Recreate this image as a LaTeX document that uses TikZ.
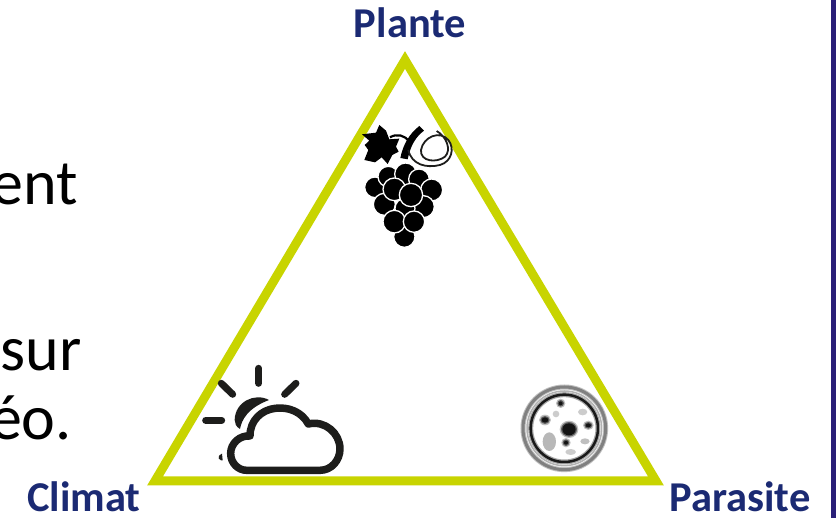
\documentclass[tikz,border=0pt]{standalone}
\usepackage{fontspec}
\setmainfont{Carlito}
\definecolor{navy}{HTML}{1B2A73}
\definecolor{lime}{HTML}{C8D400}
\definecolor{barcol}{HTML}{2A1F78}
\definecolor{ink}{HTML}{1D1D1B}
\newcommand{\softblob}[4]{% x, y, xr, yr
  \fill[black,opacity=.25] (#1,#2) ellipse[x radius=#3+6,y radius=#4+6];
  \fill[black,opacity=.5] (#1,#2) ellipse[x radius=#3+2,y radius=#4+2];
  \fill[black,opacity=.8] (#1,#2) ellipse[x radius=#3-2,y radius=#4-2];
}
\tikzset{
  corner label/.style={font=\fontsize{42.5}{42.5}\selectfont\bfseries,text=navy,inner sep=0pt,anchor=base},
  body text/.style={font=\fontsize{64}{64}\selectfont,text=black,inner sep=0pt,anchor=base east},
  berry/.style={fill=black,draw=white,line width=1.3pt},
  ray/.style={draw=ink,line width=7pt,line cap=round},
}
\begin{document}
\begin{tikzpicture}[x=1pt,y=-1pt]
\useasboundingbox (0,0) rectangle (836,518);
\fill[white] (0,0) rectangle (836,518);
\fill[barcol] (831,0) rectangle (836,518);
\begin{scope}
\clip (0,0) rectangle (836,518);
\node[body text] (t1) at (78,205) {ent};
\node[body text] (t2) at (82,371) {sur};
\node[body text] (t3) at (72,440) {éo.};
\end{scope}
% triangle
\coordinate (A) at (405,60);
\coordinate (B) at (155,481);
\coordinate (C) at (656,481);
\draw[lime,line width=9pt,miter limit=10] (A) -- (B) -- (C) -- cycle;
% labels
\node[corner label] (plante) at (410,38) {Plante};
\node[corner label] (climat) at (84,512) {Climat};
\node[corner label] (parasite) at (740,512) {Parasite};
% grapes
\begin{scope}[shift={(340,100)},x=0.3333pt,y=-0.3333pt]
  \foreach \cx/\cy/\r in {193/410/32,105/262/31,145/230/31,197/222/33,237/238/31,275/270/33,133/313/33,250/320/33,195/325/30,163/268/34,213/285/35,163/365/34,222/365/32}{
    \fill[berry] (\cx,\cy) circle[radius=\r];
  }
  % stem
  \fill[black] (238,78) -- (252,92) .. controls (228,110) and (212,135) .. (203,178) -- (181,174) .. controls (190,130) and (210,100) .. (238,78) -- cycle;
  \draw[black,line width=2.2pt] (150,112) .. controls (170,100) and (195,105) .. (207,125);
  % leaf
  \fill[black] (66,103) -- (108,98) -- (118,75) -- (138,92) -- (148,118) -- (178,116) -- (168,140) -- (176,155) -- (157,165) -- (143,192) -- (125,172) -- (105,187) -- (73,180) -- (85,150) -- (74,135) -- (88,122) -- cycle;
  % tendril
  \draw[ink,line width=1.8pt] (205,150) .. controls (215,195) and (260,205) .. (300,195) .. controls (335,185) and (345,145) .. (325,120) .. controls (300,90) and (250,110) .. (243,150) .. controls (240,185) and (290,190) .. (315,170) .. controls (335,150) and (320,110) .. (290,93);
\end{scope}
% sun and cloud
\begin{scope}[shift={(190,355)},x=0.3333pt,y=-0.3333pt]
  \draw[ray] (206,40) -- (206,85);
  \draw[ray] (94,85) -- (128,118);
  \draw[ray] (318,85) -- (284,118);
  \draw[ray] (47,196) -- (95,196);
  \fill[ink] (237,135) .. controls (195,112) and (135,140) .. (134,195) .. controls (134,205) and (138,215) .. (150,222) .. controls (155,195) and (172,160) .. (237,135) -- cycle;
  \fill[ink] (96,296) .. controls (88,298) and (84,305) .. (86,310) .. controls (90,316) and (96,318) .. (98,316) -- cycle;
  \draw[ink,line width=7.5pt,line join=round] (170,346) -- (390,346)
    .. controls (425,346) and (450,315) .. (450,282)
    .. controls (450,235) and (405,195) .. (355,207)
    .. controls (335,170) and (295,155) .. (255,160)
    .. controls (215,165) and (180,195) .. (180,243)
    .. controls (150,240) and (122,265) .. (122,295)
    .. controls (122,325) and (145,346) .. (170,346) -- cycle;
\end{scope}
% parasite dish
\begin{scope}[shift={(500,370)},x=0.3333pt,y=-0.3333pt]
  \draw[black!25,line width=5pt] (193,175) circle[radius=124];
  \draw[black!50,line width=3pt] (193,175) circle[radius=124];
  \draw[black!30,line width=1.5pt] (193,175) circle[radius=112];
  \draw[black!35,line width=5pt] (193,175) circle[radius=101];
  \draw[black!90,line width=2.5pt] (193,175) circle[radius=101];
  \softblob{207}{178}{22}{20}
  \softblob{135}{150}{12}{10}
  \softblob{182}{100}{8}{8}
  \softblob{198}{218}{8}{8}
  \softblob{265}{166}{10}{8}
  \fill[black,opacity=.28] (148,215) ellipse[x radius=20,y radius=28];
  \fill[black,opacity=.2] (168,132) circle[radius=10];
  \fill[black,opacity=.2] (248,126) ellipse[x radius=14,y radius=10];
  \fill[black,opacity=.25] (255,214) ellipse[x radius=14,y radius=9];
  \fill[black,opacity=.2] (212,246) ellipse[x radius=16,y radius=9];
\end{scope}
\end{tikzpicture}
\end{document}
